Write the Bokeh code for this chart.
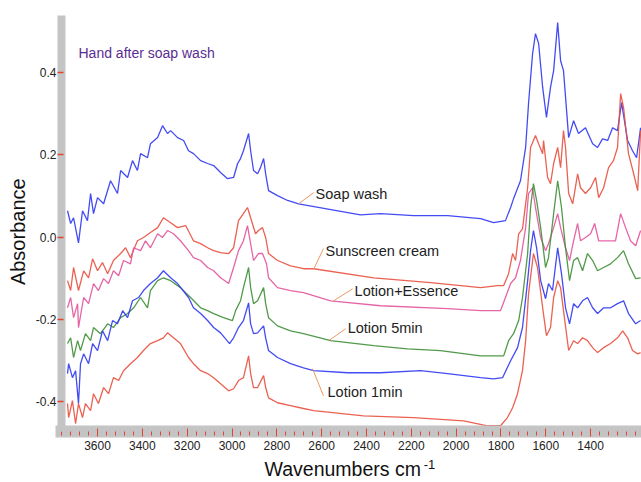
import math
from bokeh.plotting import figure
from bokeh.models import Range1d, FixedTicker, PrintfTickFormatter, Label
from bokeh.embed import file_html
from bokeh.resources import INLINE

# ---------------- data ----------------
wn_soap = [3734,3720,3707,3685,3667,3645,3631,3618,3600,3573,3542,3511,3497,3466,3444,3422,3408,3377,3364,3332,
           3310,3288,3274,3243,3216,3194,3172,3140,3109,3082,3051,3020,2993,2975,2962,2949,2926,2917,2904,2886,
           2873,2859,2850,2837,2797,2752,2703,2427,2337,2190,2038,1891,1833,1780,1757,1744,1713,1690,1677,1659,
           1646,1632,1614,1597,1579,1565,1547,1534,1521,1498,1476,1454,1423,1391,1369,1347,1324,1302,1280,1262,
           1235,1213,1195,1177]
ab_soap = [0.064,0.033,0.047,-0.014,0.064,0.040,0.106,0.057,0.096,0.081,0.137,0.106,0.162,0.145,0.186,0.162,0.203,0.193,0.227,0.242,
           0.271,0.252,0.259,0.242,0.235,0.210,0.203,0.186,0.179,0.174,0.157,0.142,0.145,0.179,0.191,0.210,0.252,0.210,0.162,0.154,
           0.169,0.191,0.154,0.113,0.101,0.089,0.081,0.054,0.057,0.052,0.052,0.045,0.035,0.040,0.072,0.093,0.137,0.218,0.325,0.446,
           0.495,0.471,0.364,0.291,0.364,0.405,0.522,0.429,0.405,0.242,0.283,0.252,0.266,0.227,0.218,0.239,0.235,0.266,0.259,0.327,
           0.235,0.210,0.193,0.266]

wn_sun = [3734,3720,3707,3685,3662,3640,3622,3600,3578,3555,3529,3497,3475,3453,3422,3395,3364,3332,3306,3274,
          3243,3207,3172,3140,3109,3082,3051,3015,2993,2971,2949,2931,2917,2895,2882,2864,2850,2837,2797,2739,
          2681,2636,2368,2114,1891,1815,1788,1766,1748,1735,1721,1704,1681,1668,1646,1632,1614,1610,1592,1579,
          1565,1547,1534,1521,1512,1498,1480,1458,1445,1423,1400,1378,1364,1342,1320,1298,1280,1266,1253,1231,
          1208,1190,1177]
ab_sun = [-0.106,-0.130,-0.074,-0.130,-0.082,-0.099,-0.053,-0.082,-0.062,-0.089,-0.057,-0.040,-0.026,-0.050,-0.009,-0.001,0.011,0.023,0.047,0.035,
          0.023,0.028,-0.009,-0.016,-0.026,-0.033,-0.038,-0.040,-0.026,0.040,0.057,0.072,0.047,0.008,0.016,0.023,-0.001,-0.040,-0.057,-0.070,
          -0.077,-0.077,-0.099,-0.111,-0.123,-0.118,-0.118,-0.089,-0.040,-0.057,0.008,0.020,0.120,0.218,0.247,0.227,0.203,0.235,0.145,0.130,
          0.179,0.218,0.169,0.259,0.218,0.106,0.081,0.154,0.120,0.106,0.120,0.145,0.096,0.120,0.169,0.186,0.218,0.349,0.315,0.203,
          0.154,0.113,0.259]

wn_ess = [3734,3720,3707,3689,3685,3662,3640,3618,3596,3573,3551,3529,3506,3484,3453,3439,3408,3386,3364,3332,
          3310,3288,3261,3230,3194,3172,3140,3109,3082,3051,3015,2993,2971,2949,2931,2917,2904,2882,2864,2846,
          2837,2797,2739,2681,2560,2337,2038,1891,1802,1780,1757,1735,1713,1690,1677,1659,1646,1623,1601,1588,
          1565,1547,1534,1512,1494,1476,1458,1445,1423,1400,1382,1364,1324,1289,1266,1244,1222,1199,1177]
ab_ess = [-0.172,-0.147,-0.196,-0.162,-0.220,-0.147,-0.162,-0.113,-0.130,-0.101,-0.113,-0.082,-0.094,-0.057,-0.065,-0.026,-0.033,-0.009,-0.026,0.008,
          -0.001,0.016,0.008,-0.009,-0.033,-0.050,-0.057,-0.074,-0.082,-0.099,-0.113,-0.074,-0.033,-0.009,0.028,-0.016,-0.057,-0.040,-0.040,-0.065,
          -0.099,-0.123,-0.130,-0.135,-0.155,-0.167,-0.174,-0.179,-0.179,-0.147,-0.113,-0.099,-0.057,0.023,0.106,0.120,0.072,-0.001,-0.033,-0.016,
          0.023,0.057,0.023,-0.026,-0.057,-0.009,0.033,-0.009,-0.001,0.008,0.033,-0.009,-0.009,-0.009,0.057,0.023,-0.009,-0.021,0.016]

wn_5min = [3734,3720,3707,3689,3676,3654,3631,3618,3587,3555,3529,3497,3466,3439,3408,3377,3364,3332,3306,3274,
           3230,3185,3140,3109,3082,3038,2998,2984,2962,2949,2926,2917,2904,2886,2859,2850,2837,2797,2739,2681,
           2560,2368,2217,2070,1891,1788,1766,1744,1721,1704,1681,1668,1655,1641,1623,1601,1588,1565,1547,1530,
           1512,1494,1476,1458,1436,1414,1391,1369,1342,1311,1280,1253,1231,1199,1177]
ab_5min = [-0.259,-0.245,-0.293,-0.252,-0.276,-0.235,-0.252,-0.220,-0.235,-0.211,-0.220,-0.196,-0.186,-0.172,-0.147,-0.172,-0.130,-0.106,-0.099,-0.106,
           -0.123,-0.147,-0.172,-0.179,-0.186,-0.196,-0.203,-0.179,-0.155,-0.123,-0.074,-0.123,-0.162,-0.155,-0.123,-0.162,-0.196,-0.216,-0.228,-0.235,
           -0.252,-0.264,-0.272,-0.276,-0.289,-0.289,-0.252,-0.235,-0.203,-0.147,-0.040,0.072,0.130,0.089,0.023,-0.074,-0.050,0.057,0.137,0.072,
           -0.026,-0.106,-0.057,-0.050,-0.082,-0.040,-0.057,-0.082,-0.074,-0.065,-0.050,-0.033,-0.065,-0.101,-0.099]

wn_1min = [3734,3729,3712,3698,3685,3676,3662,3640,3622,3600,3578,3555,3533,3511,3488,3466,3444,3417,3395,3364,
           3332,3306,3274,3243,3194,3172,3140,3109,3082,3051,3011,2993,2971,2949,2926,2917,2904,2886,2859,2850,
           2837,2797,2739,2681,2636,2485,2337,2159,2038,1891,1833,1793,1757,1726,1704,1681,1668,1655,1641,1623,
           1601,1588,1570,1547,1530,1512,1494,1476,1458,1436,1414,1391,1369,1342,1311,1280,1253,1231,1199,1177]
ab_1min = [-0.332,-0.308,-0.342,-0.325,-0.405,-0.308,-0.284,-0.308,-0.259,-0.276,-0.228,-0.252,-0.203,-0.211,-0.179,-0.196,-0.155,-0.147,-0.130,-0.113,
           -0.099,-0.082,-0.099,-0.113,-0.147,-0.172,-0.186,-0.203,-0.220,-0.233,-0.259,-0.245,-0.220,-0.203,-0.160,-0.211,-0.235,-0.233,-0.216,-0.245,
           -0.276,-0.293,-0.308,-0.318,-0.325,-0.330,-0.330,-0.325,-0.332,-0.342,-0.345,-0.342,-0.301,-0.269,-0.220,-0.106,-0.033,0.016,-0.026,-0.106,
           -0.150,-0.113,-0.130,-0.026,-0.089,-0.172,-0.211,-0.162,-0.172,-0.155,-0.147,-0.172,-0.186,-0.172,-0.172,-0.162,-0.155,-0.186,-0.211,-0.203]

wn_low = [3734,3729,3712,3698,3685,3667,3654,3631,3618,3596,3573,3551,3529,3506,3484,3453,3422,3395,3364,3332,
          3306,3288,3261,3230,3194,3172,3140,3109,3082,3051,3015,2993,2971,2949,2926,2917,2904,2886,2859,2850,
          2837,2797,2739,2681,2636,2413,2190,1967,1860,1802,1771,1748,1726,1704,1690,1677,1655,1637,1614,1597,
          1579,1565,1547,1534,1521,1498,1476,1458,1436,1414,1391,1369,1342,1311,1280,1257,1235,1213,1190,1177]
ab_low = [-0.405,-0.439,-0.398,-0.454,-0.405,-0.439,-0.405,-0.422,-0.381,-0.405,-0.366,-0.381,-0.342,-0.349,-0.325,-0.308,-0.293,-0.276,-0.259,-0.252,
          -0.245,-0.233,-0.245,-0.259,-0.293,-0.308,-0.325,-0.332,-0.342,-0.357,-0.374,-0.369,-0.349,-0.342,-0.289,-0.332,-0.366,-0.366,-0.337,-0.366,
          -0.391,-0.403,-0.410,-0.417,-0.422,-0.435,-0.439,-0.447,-0.459,-0.459,-0.439,-0.415,-0.381,-0.325,-0.252,-0.138,-0.040,-0.074,-0.172,-0.240,
          -0.220,-0.147,-0.106,-0.123,-0.179,-0.276,-0.252,-0.259,-0.245,-0.252,-0.269,-0.281,-0.269,-0.259,-0.245,-0.228,-0.245,-0.276,-0.284,-0.281]

x_major_ticks = [3600, 3400, 3200, 3000, 2800, 2600, 2400, 2200, 2000, 1800, 1600, 1400]
y_major_ticks = [-0.4, -0.2, 0.0, 0.2, 0.4]

series = [
    (wn_soap, ab_soap, "#2f37f2"),
    (wn_sun, ab_sun, "#e9503f"),
    (wn_ess, ab_ess, "#e2559c"),
    (wn_5min, ab_5min, "#3e8f36"),
    (wn_1min, ab_1min, "#2f37f2"),
    (wn_low, ab_low, "#e9503f"),
]

# axis extents (where the grey axis bars sit)
X_LEFT, X_RIGHT = 3761, 1173
Y_BOTTOM, Y_TOP = -0.473, 0.539

# ---------------- figure ----------------
p = figure(width=641, height=482, output_backend="svg", toolbar_location=None,
           x_range=Range1d(4033, 1173), y_range=Range1d(-0.597, 0.5755),
           min_border_left=0, min_border_right=0, min_border_top=0, min_border_bottom=0)
p.outline_line_color = None
p.xgrid.visible = False
p.ygrid.visible = False
p.background_fill_color = "white"
p.border_fill_color = "white"

for xs, ys, col in series:
    p.line(xs, ys, line_color=col, line_width=1.3, line_alpha=0.9)

TICK_RED = "#e0452f"
FONT = "Liberation Sans"

# bottom axis (grey bar with red ticks)
xa = p.xaxis[0]
xa.fixed_location = Y_BOTTOM
xa.bounds = (X_RIGHT, X_LEFT)
xa.ticker = FixedTicker(ticks=x_major_ticks, minor_ticks=list(range(3760, 1160, -40)))
xa.axis_line_color = "#c4c4c4"
xa.axis_line_width = 12
xa.axis_line_cap = "square"
xa.major_tick_line_color = TICK_RED
xa.minor_tick_line_color = TICK_RED
xa.major_tick_in = 3
xa.major_tick_out = 5
xa.minor_tick_in = 0
xa.minor_tick_out = 4
xa.major_label_standoff = 4
xa.major_label_text_font = FONT
xa.major_label_text_font_size = "12px"
xa.major_label_text_color = "#222222"

# left axis
ya = p.yaxis[0]
ya.fixed_location = X_LEFT
ya.bounds = (Y_BOTTOM, Y_TOP)
ya.ticker = FixedTicker(ticks=y_major_ticks)
ya.formatter = PrintfTickFormatter(format="%.1f")
ya.axis_line_color = "#c4c4c4"
ya.axis_line_width = 8
ya.major_tick_line_color = TICK_RED
ya.major_tick_line_width = 1.5
ya.major_tick_in = 2
ya.major_tick_out = 4
ya.minor_tick_in = 0
ya.minor_tick_out = 0
ya.major_label_standoff = 1
ya.major_label_text_font = FONT
ya.major_label_text_font_size = "12px"
ya.major_label_text_color = "#222222"

# leader lines for the curve labels
lead_x0 = [2703, 2636, 2547, 2569, 2641]
lead_y0 = [0.081, -0.079, -0.155, -0.252, -0.320]
lead_x1 = [2636, 2592, 2462, 2493, 2592]
lead_y1 = [0.108, -0.028, -0.126, -0.223, -0.386]
p.segment(lead_x0, lead_y0, lead_x1, lead_y1, line_color="#ec9a62", line_width=1)

curve_labels = [
    ("Soap wash", 2627, 0.106),
    ("Sunscreen cream", 2583, -0.033),
    ("Lotion+Essence", 2453, -0.130),
    ("Lotion 5min", 2484, -0.220),
    ("Lotion 1min", 2574, -0.376),
]
for txt, lx, ly in curve_labels:
    p.add_layout(Label(x=lx, y=ly, text=txt, text_font=FONT, text_font_size="14.5px",
                       text_color="#222222", text_align="left", text_baseline="middle"))

p.add_layout(Label(x=3685, y=0.449, text="Hand after soap wash", text_font=FONT,
                   text_font_size="14px", text_color="#5a2d92", text_align="left",
                   text_baseline="middle"))

# axis titles
p.add_layout(Label(x=2855, y=-0.565, text="Wavenumbers cm", text_font=FONT,
                   text_font_size="19.5px", text_color="#111111", text_align="left",
                   text_baseline="middle"))
p.add_layout(Label(x=2145, y=-0.553, text="-1", text_font=FONT,
                   text_font_size="13px", text_color="#111111", text_align="left",
                   text_baseline="middle"))
p.add_layout(Label(x=3955, y=0.013, text="Absorbance", text_font=FONT,
                   text_font_size="20px", text_color="#111111", text_align="center",
                   text_baseline="middle", angle=math.pi / 2))

open("out.html", "w").write(file_html(p, INLINE))
